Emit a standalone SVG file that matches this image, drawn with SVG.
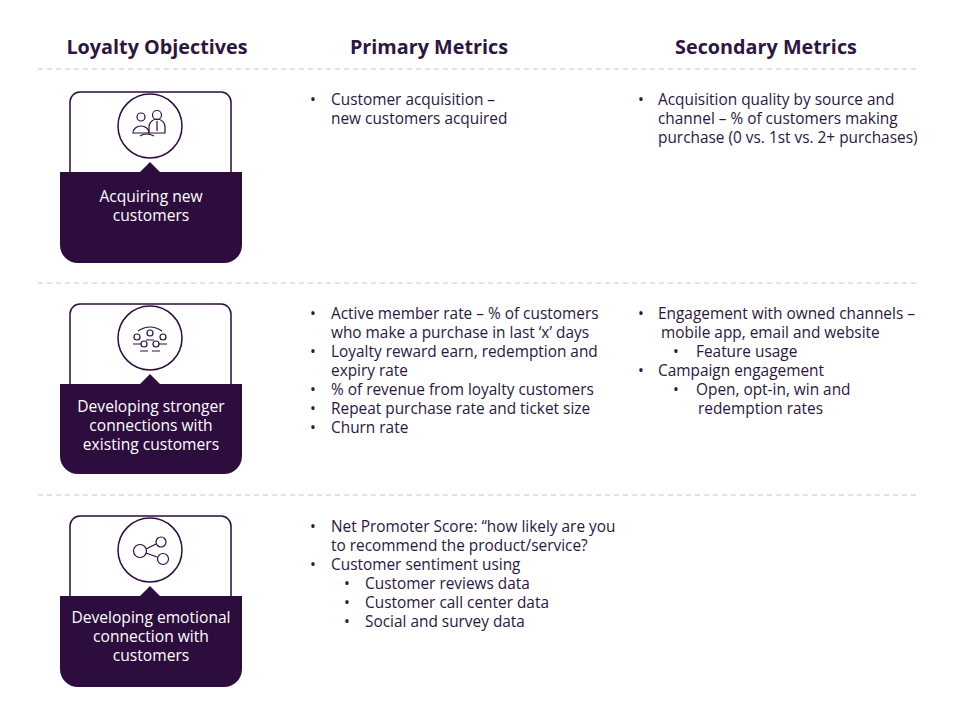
<svg xmlns="http://www.w3.org/2000/svg" width="960" height="720" viewBox="0 0 960 720">
<style>
.h{font-family:"Open Sans",sans-serif;font-weight:bold;font-size:19.8px;fill:#2d1640;text-anchor:middle}
.t{font-family:"Open Sans",sans-serif;font-size:15.4px;fill:#2d1640}
.c{font-family:"Open Sans",sans-serif;font-size:15.6px;fill:#ffffff;text-anchor:middle}
.o{fill:#fff;stroke:#2d0d3e;stroke-width:1.5}
.d{fill:#2d0d3e}
.i{fill:none;stroke:#2d0d3e;stroke-width:1.2}
.sep{stroke:#c8c8c8;stroke-width:1;stroke-dasharray:5 4}
</style>
<rect width="960" height="720" fill="#fff"/>
<text class="h" x="157" y="54">Loyalty Objectives</text>
<text class="h" x="429" y="54">Primary Metrics</text>
<text class="h" x="766" y="54">Secondary Metrics</text>
<g id="connectors">
<line class="sep" x1="38" y1="69" x2="918" y2="69"/>
<line class="sep" x1="38" y1="283" x2="918" y2="283"/>
<line class="sep" x1="38" y1="495" x2="918" y2="495"/>
</g>
<g id="card1">
<path class="o" d="M70 180 V102 a10 10 0 0 1 10 -10 H221 a10 10 0 0 1 10 10 V180"/>
<circle class="o" cx="150" cy="126" r="32"/>
<path class="d" d="M60 172 H140 L150 162 L160 172 H242 V245 a18 18 0 0 1 -18 18 H78 a18 18 0 0 1 -18 -18 Z"/>
<g class="i"><circle cx="141" cy="117" r="4"/><path d="M133 133 a8 7 0 0 1 16 0 Z"/><circle cx="157" cy="115" r="4.5"/><path d="M149 133 v-6 a8 8 0 0 1 16 0 v6 Z M157 121 v10"/><path d="M140 136 q6 -4 14 0"/></g>
<text class="c" x="151" y="202">Acquiring new</text>
<text class="c" x="151" y="221">customers</text>
</g>
<g id="card2">
<path class="o" d="M70 392 V314 a10 10 0 0 1 10 -10 H221 a10 10 0 0 1 10 10 V392"/>
<circle class="o" cx="150" cy="338" r="32"/>
<path class="d" d="M60 384 H140 L150 374 L160 384 H242 V456 a18 18 0 0 1 -18 18 H78 a18 18 0 0 1 -18 -18 Z"/>
<g class="i"><circle cx="150" cy="333" r="3"/><circle cx="137" cy="337" r="3"/><circle cx="163" cy="337" r="3"/><circle cx="144" cy="344" r="3"/><circle cx="156" cy="344" r="3"/><path d="M133 344 h8 M159 344 h8 M140 351 h8 M152 351 h8 M146 340 h8"/><path d="M138 331 q12 -8 24 0"/></g>
<text class="c" x="151" y="412">Developing stronger</text>
<text class="c" x="151" y="431">connections with</text>
<text class="c" x="151" y="450">existing customers</text>
</g>
<g id="card3">
<path class="o" d="M70 604 V526 a10 10 0 0 1 10 -10 H221 a10 10 0 0 1 10 10 V604"/>
<circle class="o" cx="150" cy="550" r="32"/>
<path class="d" d="M60 596 H140 L150 586 L160 596 H242 V669 a18 18 0 0 1 -18 18 H78 a18 18 0 0 1 -18 -18 Z"/>
<g class="i"><circle cx="140" cy="551" r="6.5"/><circle cx="161" cy="542" r="5"/><circle cx="163" cy="559" r="5.5"/><path d="M146 549 L156 544 M146 553 L157 557"/></g>
<text class="c" x="151" y="623">Developing emotional</text>
<text class="c" x="151" y="642">connection with</text>
<text class="c" x="151" y="661">customers</text>
</g>
<g id="primary" class="t">
<text x="310" y="105">•</text><text x="331" y="105">Customer acquisition –</text>
<text x="331" y="124">new customers acquired</text>
<text x="310" y="319">•</text><text x="331" y="319">Active member rate – % of customers</text>
<text x="331" y="338">who make a purchase in last ‘x’ days</text>
<text x="310" y="357">•</text><text x="331" y="357">Loyalty reward earn, redemption and</text>
<text x="331" y="376">expiry rate</text>
<text x="310" y="395">•</text><text x="331" y="395">% of revenue from loyalty customers</text>
<text x="310" y="414">•</text><text x="331" y="414">Repeat purchase rate and ticket size</text>
<text x="310" y="433">•</text><text x="331" y="433">Churn rate</text>
<text x="310" y="532">•</text><text x="331" y="532">Net Promoter Score: “how likely are you</text>
<text x="331" y="551">to recommend the product/service?</text>
<text x="310" y="570">•</text><text x="331" y="570">Customer sentiment using</text>
<text x="344" y="589">•</text><text x="365" y="589">Customer reviews data</text>
<text x="344" y="608">•</text><text x="365" y="608">Customer call center data</text>
<text x="344" y="627">•</text><text x="365" y="627">Social and survey data</text>
</g>
<g id="secondary" class="t">
<text x="638" y="105">•</text><text x="658" y="105">Acquisition quality by source and</text>
<text x="658" y="124">channel – % of customers making</text>
<text x="658" y="143">purchase (0 vs. 1st vs. 2+ purchases)</text>
<text x="638" y="319">•</text><text x="658" y="319">Engagement with owned channels –</text>
<text x="661" y="338">mobile app, email and website</text>
<text x="673" y="357">•</text><text x="696" y="357">Feature usage</text>
<text x="638" y="376">•</text><text x="658" y="376">Campaign engagement</text>
<text x="673" y="395">•</text><text x="696" y="395">Open, opt-in, win and</text>
<text x="698" y="414">redemption rates</text>
</g>
</svg>
